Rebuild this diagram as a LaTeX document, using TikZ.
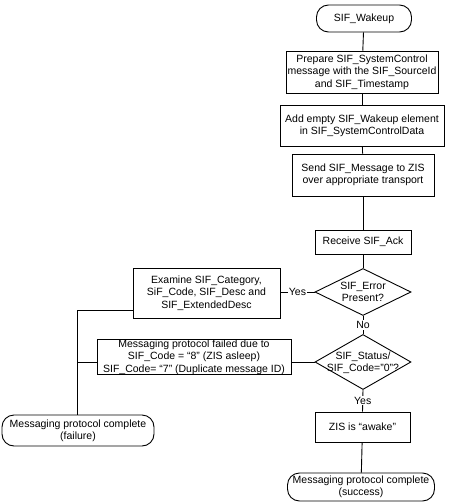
\documentclass[tikz,border=0pt]{standalone}
\usepackage{fontspec}
\setmainfont{Liberation Sans}
\usetikzlibrary{shapes.geometric}
\begin{document}
\begin{tikzpicture}[x=1pt,y=-1pt,
  every node/.style={font=\fontsize{10.5}{12.3}\selectfont, inner sep=0pt, align=center},
  box/.style={draw, line width=0.9pt, rectangle, minimum width=#1},
  term/.style={draw, line width=0.9pt, rectangle, rounded corners=12pt, minimum width=#1},
  dia/.style={draw, line width=0.9pt, diamond, minimum width=96pt},
  conn/.style={line width=0.9pt},
  lbl/.style={fill=white, inner sep=1pt}]
\useasboundingbox (0,0) rectangle (449,503);
\node[term=95, minimum height=27] (wake) at (364,18.5) {SIF\_Wakeup};
\node[box=152, minimum height=42] (prep) at (362,72) {Prepare SIF\_SystemControl\\message with the SIF\_SourceId\\and SIF\_Timestamp};
\node[box=164, minimum height=41] (add) at (362,125.5) {Add empty SIF\_Wakeup element\\in SIF\_SystemControlData};
\node[box=142, minimum height=42] (send) at (363,175) {Send SIF\_Message to ZIS\\over appropriate transport};
\node[box=96, minimum height=24] (recv) at (363,242) {Receive SIF\_Ack};
\node[dia, minimum height=47] (d1) at (363,292) {};
\node (d1t) at (d1.center) {SIF\_Error\\Present?};
\node[box=147, minimum height=50] (exam) at (206.5,293) {Examine SIF\_Category,\\SiF\_Code, SIF\_Desc and\\SIF\_ExtendedDesc};
\node[dia, minimum height=55] (d2) at (363,362) {};
\node (d2t) at ([yshift=-1]d2.center) {SIF\_Status/\\SIF\_Code="0"?};
\node[box=194, minimum height=29] (failed) at (194,357) {Messaging protocol failed due to\\SIF\_Code = “8” (ZIS asleep)\\SIF\_Code= “7” (Duplicate message ID)};
\node[box=95, minimum height=30] (zis) at (362.5,427) {ZIS is “awake”};
\node[term=147, minimum height=28] (succ) at (361,487) {Messaging protocol complete\\(success)};
\node[term=152, minimum height=31] (fail) at (78,430.5) {Messaging protocol complete\\(failure)};
\coordinate (spA) at (77,310);
\coordinate (spB) at (77,362);
\draw[conn] (wake) -- (prep);
\draw[conn] (prep) -- (add);
\draw[conn] (add) -- (send);
\draw[conn] (send) -- (recv);
\draw[conn] (recv) -- (d1);
\draw[conn] (d1.west) -- node[lbl] (ly1) {Yes} (d1.west -| exam.east);
\draw[conn] (d1.south) -- node[lbl, pos=0.5] (ln) {No} (d2.north);
\draw[conn] (d2.south) -- node[lbl] (ly2) {Yes} (zis.north);
\draw[conn] (d2.west) -- (d2.west -| failed.east);
\draw[conn] (zis) -- (succ);
\draw[conn] (spA -| exam.west) -- (spA) -- (fail.north -| spA);
\draw[conn] (spB -| failed.west) -- (spB);
\end{tikzpicture}
\end{document}
